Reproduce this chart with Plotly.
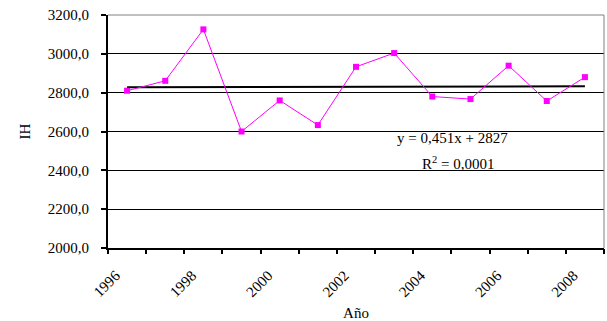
import plotly.graph_objects as go

years = [1996, 1997, 1998, 1999, 2000, 2001, 2002, 2003, 2004, 2005, 2006, 2007, 2008]
ih = [2810, 2861, 3126, 2600, 2760, 2633, 2933, 3004, 2780, 2767, 2939, 2757, 2880]
trend_slope = 0.451
trend_intercept = 2827
y_ticks = [2000, 2200, 2400, 2600, 2800, 3000, 3200]
y_tick_text = ["2000,0", "2200,0", "2400,0", "2600,0", "2800,0", "3000,0", "3200,0"]
x_label_years = [1996, 1998, 2000, 2002, 2004, 2006, 2008]

idx = list(range(1, len(years) + 1))
trend_x = [idx[0], idx[-1]]
trend_y = [trend_intercept + trend_slope * v for v in trend_x]

FONT = "Liberation Serif, Times New Roman, serif"

fig = go.Figure()
fig.add_trace(go.Scatter(x=trend_x, y=trend_y, mode="lines",
                         line=dict(color="black", width=2), showlegend=False, hoverinfo="skip"))
fig.add_trace(go.Scatter(x=idx, y=ih, mode="lines+markers",
                         line=dict(color="#FF00FF", width=1),
                         marker=dict(symbol="square", size=6, color="#FF00FF"),
                         showlegend=False))
# invisible trace to activate the tick-mark axis
fig.add_trace(go.Scatter(x=[idx[0]], y=[ih[0]], xaxis="x2", mode="markers",
                         marker=dict(opacity=0), showlegend=False, hoverinfo="skip"))

label_pos = [idx[years.index(yv)] - 0.3 for yv in x_label_years]
n = len(years)

fig.update_layout(
    width=607, height=321,
    margin=dict(l=108, r=3, t=15, b=73),
    paper_bgcolor="white", plot_bgcolor="white",
    font=dict(family=FONT, size=15, color="black"),
    xaxis=dict(range=[0.5, n + 0.5], tickvals=label_pos, automargin=False,
               ticktext=[str(v) for v in x_label_years], tickangle=-45,
               ticks="", showgrid=False, zeroline=False,
               showline=True, linecolor="black", linewidth=2,
               ticklabelstandoff=11,
               tickfont=dict(family=FONT, size=15),
               title=dict(text="Año", font=dict(family=FONT, size=15), standoff=12)),
    xaxis2=dict(range=[0.5, n + 0.5], overlaying="x", side="bottom", automargin=False,
                tickvals=[i + 0.5 for i in range(0, n + 1)],
                ticks="outside", ticklen=5, tickcolor="black", tickwidth=2,
                showticklabels=False, showgrid=False, zeroline=False, showline=False),
    yaxis=dict(range=[2000, 3200], tickvals=y_ticks, ticktext=y_tick_text, automargin=False,
               ticks="outside", ticklen=5, tickcolor="black", tickwidth=2,
               showgrid=True, gridcolor="black", gridwidth=1,
               zeroline=False, showline=True, linecolor="black", linewidth=2,
               ticklabelstandoff=9,
               tickfont=dict(family=FONT, size=15),
               title=dict(text="IH", font=dict(family=FONT, size=15), standoff=14)),
    shapes=[
        dict(type="line", xref="paper", yref="paper", x0=0, x1=1, y0=1, y1=1,
             line=dict(color="#808080", width=1), layer="above"),
        dict(type="line", xref="paper", yref="paper", x0=1, x1=1, y0=0, y1=1,
             line=dict(color="#808080", width=1), layer="above"),
    ],
    annotations=[
        dict(x=9.54, y=2564, xref="x", yref="y", showarrow=False,
             text="y = 0,451x + 2827", font=dict(family=FONT, size=15)),
        dict(x=9.67, y=2440, xref="x", yref="y", showarrow=False,
             text="R<sup>2</sup> = 0,0001", font=dict(family=FONT, size=15)),
    ],
)

fig.write_html("out.html")
